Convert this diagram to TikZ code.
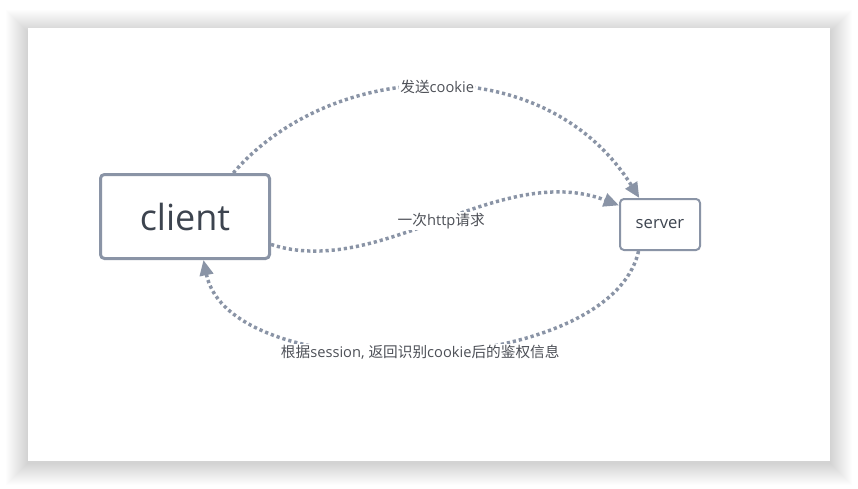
\documentclass[tikz,border=0pt]{standalone}
\usepackage{fontspec}
\setmainfont{Open Sans}
\newfontfamily\cjk{Noto Sans CJK SC}
\usepackage{xcolor}
\usepackage{tikz}
\usetikzlibrary{arrows.meta}
\definecolor{edgegray}{RGB}{138,148,166}
\definecolor{inkgray}{RGB}{61,68,79}
\definecolor{labelgray}{RGB}{77,80,87}

\begin{document}
\begin{tikzpicture}[x=0.75pt,y=0.75pt,yscale=-1,xscale=1,
  box/.style={draw=edgegray, rounded corners=3pt, fill=white, text=inkgray, inner sep=0pt},
  link/.style={draw=edgegray, line width=2.6pt, dash pattern=on 2.4pt off 2.2pt, -{Triangle[length=11.5pt,width=10pt]}},
  tag/.style={fill=white, text=labelgray, font=\fontsize{11}{13}\selectfont, inner sep=1pt}]
%set diagram left start at 0, and has height of 489
\useasboundingbox (0,0) rectangle (858,489);
\fill[white] (0,0) rectangle (858,489);

%Shape: Card shadow
\foreach \i in {1,...,22}
  \fill[black, opacity=0.008] (28-\i,28-\i+4) rectangle (830+\i,461+\i+2);
%Shape: Card
\fill[white] (28,28) rectangle (830,461);

%Shape: Rectangle client
\node[box, line width=2.25pt, minimum width=126.75pt, minimum height=63pt, font=\fontsize{27}{31}\selectfont] (client) at (185,216.5) {client};
%Shape: Rectangle server
\node[box, line width=1.5pt, minimum width=60pt, minimum height=38.25pt, font=\fontsize{12.5}{15}\selectfont] (server) at (660,224.5) {server};

%Curve Lines
\draw[link] (client.42) .. controls (330,60) and (545,47) .. (server.128) node[tag, pos=0.5] {{\cjk 发送}cookie};
%Curve Lines
\draw[link] (client.-18) .. controls (380,280) and (500,160) .. (server.155) node[tag, pos=0.5] {{\cjk 一次}http{\cjk 请求}};
%Curve Lines
\draw[link] (server.231) .. controls (610,380) and (230,390) .. (client.-67) node[tag, pos=0.5] {{\cjk 根据}session, {\cjk 返回识别}cookie{\cjk 后的鉴权信息}};

\end{tikzpicture}
\end{document}
